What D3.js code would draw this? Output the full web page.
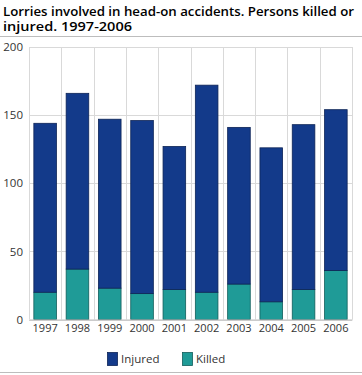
<!DOCTYPE html>
<html><head><meta charset="utf-8">
<script src="https://cdn.jsdelivr.net/npm/d3@7"></script>
<style>body{margin:0;background:#fff;} svg{display:block;font-family:"Open Sans",sans-serif;}</style>
</head><body>
<svg id="c" width="362" height="375"></svg>
<script>
const years = ["1997","1998","1999","2000","2001","2002","2003","2004","2005","2006"];
const killed = [20,37,23,19,22,20,26,13,22,36];
const injured = [124,129,124,127,105,152,115,113,121,118];
const yTicks = [0,50,100,150,200];
const seriesNames = ["Injured","Killed"];
const colors = {Injured:"#133a8a", Killed:"#1f9b97"};
const strokes = {Injured:"#0d2456", Killed:"#125e5b"};

const svg = d3.select("#c");
const m = {l:29, r:352, t:47, b:319.5};

svg.append("text").attr("x",3).attr("y",15.5).attr("font-size",13).attr("font-weight",600).attr("fill","#000")
  .attr("textLength",351).attr("lengthAdjust","spacingAndGlyphs")
  .text("Lorries involved in head-on accidents. Persons killed or");
svg.append("text").attr("x",3).attr("y",31).attr("font-size",13).attr("font-weight",600).attr("fill","#000")
  .attr("textLength",129).attr("lengthAdjust","spacingAndGlyphs")
  .text("injured. 1997-2006");
svg.append("line").attr("x1",0).attr("x2",362).attr("y1",36.5).attr("y2",36.5).attr("stroke","#bdbdbd").attr("stroke-width",1);
svg.append("line").attr("x1",0).attr("x2",362).attr("y1",372.5).attr("y2",372.5).attr("stroke","#bdbdbd").attr("stroke-width",1);

const x = d3.scaleBand().domain(years).range([m.l,m.r]).paddingInner(0.3).paddingOuter(0.15);
const xb = d3.scaleBand().domain(years).range([m.l,m.r]);
const y = d3.scaleLinear().domain([0,200]).range([m.b,m.t]);

// grid
const g = svg.append("g");
yTicks.forEach(t=>{
  g.append("line").attr("x1",m.l).attr("x2",m.r).attr("y1",Math.round(y(t))+0.5).attr("y2",Math.round(y(t))+0.5)
   .attr("stroke","#d9d9d9");
});
years.forEach((yr,i)=>{
  const xx = Math.round(xb(yr))+0.5;
  g.append("line").attr("x1",xx).attr("x2",xx).attr("y1",m.t).attr("y2",m.b).attr("stroke","#d9d9d9");
});
g.append("line").attr("x1",Math.round(m.r)+0.5).attr("x2",Math.round(m.r)+0.5).attr("y1",m.t).attr("y2",m.b).attr("stroke","#d9d9d9");

// stacked bars
const data = years.map((yr,i)=>({year:yr, Killed:killed[i], Injured:injured[i]}));
const stack = d3.stack().keys(["Killed","Injured"])(data);
stack.forEach(s=>{
  svg.append("g").selectAll("rect").data(s).join("rect")
    .attr("x",d=>x(d.data.year)).attr("width",x.bandwidth())
    .attr("y",d=>y(d[1])).attr("height",d=>y(d[0])-y(d[1]))
    .attr("fill",colors[s.key]).attr("stroke",strokes[s.key]).attr("stroke-width",0.8);
});

// axes
const ya = svg.append("g").attr("transform",`translate(${m.l},0)`)
  .call(d3.axisLeft(y).tickValues(yTicks).tickSize(0).tickPadding(6));
ya.select(".domain").remove();
ya.selectAll("text").attr("font-size",11.5).attr("fill","#333").attr("font-family","Open Sans");

const xa = svg.append("g").attr("transform",`translate(0,${m.b})`)
  .call(d3.axisBottom(xb).tickSize(0).tickPadding(5));
xa.select(".domain").attr("stroke","#bdbdbd");
xa.selectAll("text").attr("font-size",11).attr("fill","#333").attr("font-family","Open Sans");

// legend
const leg = [{k:"Injured",x:107},{k:"Killed",x:182}];
leg.forEach(l=>{
  svg.append("rect").attr("x",l.x+0.5).attr("y",352.5).attr("width",10).attr("height",13)
    .attr("fill",colors[l.k]).attr("stroke",strokes[l.k]).attr("stroke-width",0.8);
  svg.append("text").attr("x",l.x+14).attr("y",363).attr("font-size",11.5).attr("fill","#333").text(l.k);
});
</script>
</body></html>
